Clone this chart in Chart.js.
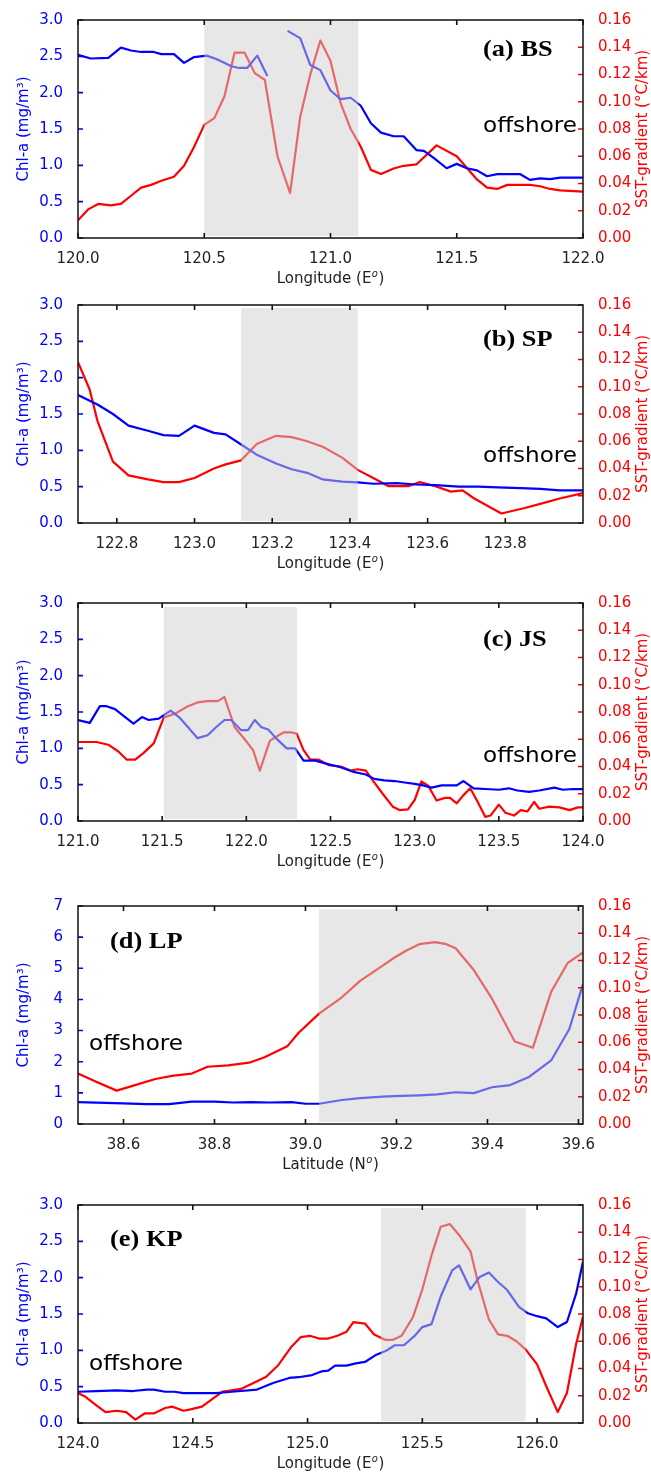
<!DOCTYPE html>
<html>
<head>
<meta charset="utf-8">
<title>Chl-a and SST-gradient sections</title>
<script src="https://cdn.jsdelivr.net/npm/chart.js@4.4.1/dist/chart.umd.min.js"></script>
<style>
  html, body { margin: 0; padding: 0; background: #fff; }
  body { width: 651px; height: 1476px; position: relative; overflow: hidden; }
  canvas { position: absolute; left: 0; }
</style>
</head>
<body>
<canvas id="chartA" width="651" height="290" style="top:0px"></canvas>
<canvas id="chartB" width="651" height="290" style="top:285px"></canvas>
<canvas id="chartC" width="651" height="290" style="top:583px"></canvas>
<canvas id="chartD" width="651" height="290" style="top:886px"></canvas>
<canvas id="chartE" width="651" height="290" style="top:1185px"></canvas>
<script>
// shared tick labels
const chlTicks = [0, 0.5, 1.0, 1.5, 2.0, 2.5, 3.0];
const chlTicksD = [0, 1, 2, 3, 4, 5, 6, 7];
const sstTicks = [0, 0.02, 0.04, 0.06, 0.08, 0.10, 0.12, 0.14, 0.16];

// (a) BS
const xTicksA = [120.0, 120.5, 121.0, 121.5, 122.0];
const shadeA = [120.5, 121.11];
const lonChlA = [120.00,120.05,120.12,120.17,120.21,120.25,120.30,120.33,120.38,120.42,120.46,120.51,120.55,120.61,120.64,120.67,120.71,120.75,120.79,120.83,120.88,120.92,120.96,121.00,121.04,121.08,121.12,121.16,121.20,121.25,121.29,121.34,121.37,121.41,121.46,121.50,121.54,121.58,121.62,121.66,121.75,121.79,121.83,121.87,121.91,122.00];
const chlA = [2.52,2.47,2.48,2.62,2.58,2.56,2.56,2.53,2.53,2.41,2.49,2.51,2.46,2.36,2.34,2.34,2.51,2.23,null,2.85,2.75,2.38,2.31,2.03,1.91,1.93,1.82,1.58,1.45,1.40,1.40,1.21,1.20,1.10,0.96,1.02,0.96,0.93,0.85,0.88,0.88,0.80,0.82,0.81,0.83,0.83];
const lonSstA = [120.00,120.04,120.08,120.13,120.17,120.21,120.25,120.29,120.33,120.38,120.42,120.46,120.50,120.54,120.58,120.62,120.66,120.70,120.74,120.79,120.84,120.88,120.92,120.96,121.00,121.04,121.08,121.12,121.16,121.20,121.25,121.29,121.34,121.42,121.50,121.58,121.62,121.66,121.70,121.79,121.83,121.87,121.91,122.00];
const sstA = [0.013,0.021,0.025,0.024,0.025,0.031,0.037,0.039,0.042,0.045,0.053,0.067,0.083,0.088,0.104,0.136,0.136,0.121,0.116,0.060,0.033,0.089,0.120,0.145,0.130,0.099,0.080,0.067,0.050,0.047,0.051,0.053,0.054,0.068,0.060,0.043,0.037,0.036,0.039,0.039,0.038,0.036,0.035,0.034];

// (b) SP
const xTicksB = [122.8, 123.0, 123.2, 123.4, 123.6, 123.8];
const shadeB = [123.12, 123.42];
const lonChlB = [122.70,122.75,122.79,122.83,122.88,122.92,122.96,123.00,123.05,123.08,123.12,123.16,123.21,123.25,123.29,123.33,123.38,123.42,123.46,123.52,123.57,123.62,123.68,123.73,123.78,123.84,123.89,123.94,124.00];
const chlB = [1.76,1.63,1.50,1.34,1.27,1.21,1.20,1.34,1.24,1.22,1.08,0.94,0.82,0.74,0.69,0.60,0.57,0.56,0.54,0.55,0.53,0.52,0.50,0.50,0.49,0.48,0.47,0.45,0.45];
const lonSstB = [122.70,122.73,122.75,122.79,122.83,122.88,122.92,122.96,123.00,123.05,123.08,123.12,123.16,123.21,123.25,123.29,123.33,123.38,123.42,123.46,123.50,123.55,123.58,123.62,123.66,123.69,123.72,123.79,123.85,123.89,123.94,124.00];
const sstB = [0.118,0.098,0.075,0.045,0.035,0.032,0.030,0.030,0.033,0.040,0.043,0.046,0.058,0.064,0.063,0.060,0.056,0.048,0.039,0.033,0.027,0.027,0.030,0.027,0.023,0.024,0.018,0.007,0.011,0.014,0.018,0.022];

// (c) JS
const xTicksC = [121.0, 121.5, 122.0, 122.5, 123.0, 123.5, 124.0];
const shadeC = [121.51, 122.30];
const lonChlC = [121.00,121.07,121.13,121.17,121.22,121.28,121.33,121.38,121.42,121.48,121.55,121.60,121.65,121.71,121.77,121.82,121.87,121.91,121.97,122.01,122.05,122.09,122.13,122.18,122.24,122.29,122.34,122.41,122.49,122.56,122.63,122.71,122.76,122.82,122.88,122.94,123.00,123.05,123.10,123.16,123.25,123.29,123.35,123.42,123.50,123.56,123.61,123.68,123.74,123.83,123.88,123.94,124.00];
const chlC = [1.39,1.35,1.58,1.58,1.54,1.43,1.34,1.43,1.39,1.41,1.52,1.43,1.30,1.14,1.18,1.29,1.39,1.39,1.25,1.25,1.39,1.29,1.26,1.13,1.00,1.00,0.83,0.83,0.78,0.74,0.68,0.64,0.58,0.56,0.55,0.53,0.51,0.49,0.46,0.49,0.49,0.55,0.45,0.44,0.43,0.45,0.42,0.40,0.42,0.46,0.43,0.44,0.44];
const lonSstC = [121.00,121.11,121.18,121.24,121.29,121.34,121.39,121.45,121.51,121.58,121.65,121.71,121.77,121.83,121.87,121.93,121.99,122.04,122.08,122.14,122.22,122.27,122.30,122.34,122.38,122.43,122.49,122.56,122.62,122.66,122.71,122.75,122.81,122.87,122.91,122.96,123.00,123.04,123.08,123.13,123.18,123.21,123.25,123.29,123.33,123.37,123.42,123.45,123.50,123.54,123.59,123.63,123.67,123.71,123.74,123.80,123.86,123.92,123.97,124.00];
const sstC = [0.058,0.058,0.056,0.051,0.045,0.045,0.050,0.057,0.076,0.079,0.084,0.087,0.088,0.088,0.091,0.069,0.060,0.052,0.037,0.059,0.065,0.065,0.064,0.052,0.045,0.045,0.041,0.040,0.037,0.038,0.037,0.030,0.020,0.0105,0.008,0.0086,0.0154,0.029,0.026,0.015,0.017,0.017,0.013,0.019,0.024,0.015,0.003,0.004,0.012,0.006,0.004,0.008,0.007,0.014,0.009,0.0105,0.010,0.008,0.010,0.010];

// (d) LP
const xTicksD = [38.6, 38.8, 39.0, 39.2, 39.4, 39.6];
const shadeD = [39.03, 39.61];
const latChlD = [38.50,38.56,38.60,38.65,38.70,38.75,38.80,38.84,38.88,38.92,38.97,39.00,39.03,39.08,39.12,39.17,39.21,39.25,39.29,39.33,39.37,39.41,39.45,39.49,39.54,39.58,39.61];
const chlD = [0.70,0.68,0.66,0.64,0.64,0.72,0.72,0.69,0.70,0.69,0.70,0.65,0.65,0.77,0.83,0.88,0.90,0.92,0.95,1.02,0.99,1.18,1.25,1.50,2.04,3.05,4.50];
const latSstD = [38.50,38.54,38.585,38.62,38.67,38.71,38.75,38.785,38.83,38.876,38.91,38.96,38.985,39.03,39.08,39.12,39.16,39.195,39.22,39.25,39.285,39.31,39.33,39.37,39.41,39.46,39.50,39.54,39.576,39.61];
const sstD = [0.037,0.031,0.0245,0.028,0.033,0.0355,0.037,0.042,0.043,0.045,0.049,0.057,0.067,0.081,0.093,0.105,0.114,0.122,0.127,0.132,0.1335,0.132,0.129,0.113,0.092,0.0605,0.056,0.097,0.118,0.126];

// (e) KP
const xTicksE = [124.0, 124.5, 125.0, 125.5, 126.0];
const shadeE = [125.32, 125.95];
const lonChlE = [124.00,124.08,124.17,124.24,124.30,124.33,124.38,124.42,124.46,124.53,124.60,124.67,124.78,124.85,124.92,124.96,125.02,125.06,125.09,125.12,125.17,125.21,125.25,125.30,125.34,125.38,125.42,125.47,125.50,125.54,125.58,125.63,125.66,125.71,125.75,125.79,125.83,125.87,125.92,125.96,126.00,126.04,126.09,126.13,126.17,126.20];
const chlE = [0.43,0.44,0.45,0.44,0.46,0.46,0.43,0.43,0.41,0.41,0.41,0.43,0.46,0.55,0.62,0.63,0.66,0.71,0.72,0.79,0.79,0.82,0.84,0.94,0.99,1.07,1.07,1.21,1.32,1.36,1.74,2.10,2.17,1.84,2.01,2.07,1.94,1.83,1.60,1.51,1.47,1.44,1.32,1.39,1.78,2.22];
const lonSstE = [124.00,124.03,124.08,124.12,124.17,124.21,124.25,124.29,124.33,124.38,124.41,124.46,124.49,124.54,124.58,124.63,124.67,124.71,124.76,124.82,124.87,124.93,124.97,125.01,125.05,125.09,125.13,125.17,125.20,125.25,125.29,125.34,125.37,125.41,125.46,125.50,125.54,125.58,125.62,125.66,125.71,125.74,125.79,125.83,125.87,125.91,125.95,126.00,126.04,126.09,126.13,126.17,126.20];
const sstE = [0.022,0.0195,0.013,0.008,0.009,0.008,0.0025,0.007,0.007,0.011,0.012,0.009,0.010,0.012,0.017,0.023,0.024,0.025,0.029,0.034,0.042,0.056,0.063,0.064,0.062,0.062,0.064,0.067,0.074,0.073,0.065,0.061,0.061,0.064,0.078,0.098,0.123,0.144,0.146,0.138,0.126,0.105,0.076,0.065,0.064,0.060,0.054,0.043,0.027,0.008,0.022,0.058,0.078];

Chart.defaults.font.family = '"DejaVu Sans", sans-serif';
Chart.defaults.animation = false;

const BLUE = '#0000ff', RED = '#ff0000';

function pts(xs, ys) { return xs.map((x, i) => ({ x: x, y: ys[i] })); }

// shade box, frame with inward ticks, axis titles and the in-plot texts
const decor = {
  id: 'decor',
  afterDatasetsDraw(chart, args, o) {
    const { ctx, chartArea: a, scales } = chart;
    const sx = scales.x, yl = scales.y, yr = scales.y1;
    ctx.save();
    const x0 = sx.getPixelForValue(o.shade[0]);
    const x1 = Math.min(sx.getPixelForValue(o.shade[1]), a.right);
    ctx.fillStyle = 'rgba(208,208,208,0.5)';
    ctx.fillRect(x0, a.top + o.shadeInset, x1 - x0, a.bottom - 2 - a.top - o.shadeInset);

    ctx.lineWidth = 1.6;
    ctx.strokeStyle = '#111';
    ctx.beginPath();
    sx.ticks.forEach(t => {
      const px = sx.getPixelForValue(t.value);
      ctx.moveTo(px, a.bottom); ctx.lineTo(px, a.bottom - 5);
      ctx.moveTo(px, a.top); ctx.lineTo(px, a.top + 5);
    });
    ctx.stroke();
    ctx.strokeStyle = BLUE;
    ctx.beginPath();
    yl.ticks.forEach(t => {
      const py = yl.getPixelForValue(t.value);
      ctx.moveTo(a.left, py); ctx.lineTo(a.left + 5, py);
    });
    ctx.stroke();
    ctx.strokeStyle = RED;
    ctx.beginPath();
    yr.ticks.forEach(t => {
      const py = yr.getPixelForValue(t.value);
      ctx.moveTo(a.right, py); ctx.lineTo(a.right - 5, py);
    });
    ctx.stroke();
    ctx.strokeStyle = '#111';
    ctx.lineWidth = 1.5;
    ctx.strokeRect(a.left, a.top, a.right - a.left, a.bottom - a.top);

    const midY = (a.top + a.bottom) / 2;
    ctx.textBaseline = 'middle';
    ctx.textAlign = 'center';
    ctx.font = '15px "DejaVu Sans"';
    ctx.fillStyle = BLUE;
    ctx.save(); ctx.translate(24, midY); ctx.rotate(-Math.PI / 2);
    ctx.fillText('Chl-a (mg/m\u00B3)', 0, 0); ctx.restore();
    ctx.fillStyle = RED;
    ctx.save(); ctx.translate(643, midY); ctx.rotate(-Math.PI / 2);
    ctx.fillText('SST-gradient (\u00B0C/km)', 0, 0); ctx.restore();

    // x title with an italic superscript o
    ctx.fillStyle = '#222';
    ctx.textAlign = 'left';
    const t1 = o.xTitle + ' (' + o.xUnit, t3 = ')';
    ctx.font = '15px "DejaVu Sans"';
    const w1 = ctx.measureText(t1).width, w3 = ctx.measureText(t3).width;
    ctx.font = 'italic 10px "DejaVu Sans"';
    const w2 = ctx.measureText('o').width + 1;
    const tx = (a.left + a.right) / 2 - (w1 + w2 + w3) / 2, ty = a.bottom + 41;
    ctx.font = '15px "DejaVu Sans"';
    ctx.fillText(t1, tx, ty);
    ctx.fillText(t3, tx + w1 + w2, ty);
    ctx.font = 'italic 10px "DejaVu Sans"';
    ctx.fillText('o', tx + w1 + 0.5, ty - 5);

    ctx.fillStyle = '#000';
    ctx.save(); ctx.translate(o.labelPos[0], a.top + o.labelPos[1]); ctx.scale(1.1, 1);
    ctx.font = 'bold 24px "Liberation Serif"';
    ctx.fillText(o.label, 0, 0); ctx.restore();
    ctx.save(); ctx.translate(o.offPos[0], a.top + o.offPos[1]); ctx.scale(1.1, 1);
    ctx.font = '21px "DejaVu Sans"';
    ctx.fillText('offshore', 0, 0); ctx.restore();
    ctx.restore();
  }
};

function makePanel(id, p) {
  new Chart(document.getElementById(id), {
    type: 'line',
    data: {
      datasets: [
        { data: pts(p.xChl, p.chl), yAxisID: 'y', borderColor: BLUE, borderWidth: 2.2,
          pointRadius: 0, tension: 0, spanGaps: false, borderJoinStyle: 'round' },
        { data: pts(p.xSst, p.sst), yAxisID: 'y1', borderColor: RED, borderWidth: 2.2,
          pointRadius: 0, tension: 0, borderJoinStyle: 'round' }
      ]
    },
    options: {
      responsive: false,
      animation: false,
      layout: { padding: { top: 20, left: 0, right: 0, bottom: 0 } },
      plugins: { legend: { display: false }, tooltip: { enabled: false },
        decor: { shade: p.shade, shadeInset: p.shadeInset, label: p.label, labelPos: p.labelPos,
                 offPos: p.offPos, xTitle: p.xTitle, xUnit: p.xUnit } },
      scales: {
        x: {
          type: 'linear', min: p.xRange[0], max: p.xRange[1],
          grid: { display: false }, border: { display: false },
          ticks: { color: '#222', font: { size: 15 }, padding: 4, maxRotation: 0, autoSkip: false,
                   callback: v => v.toFixed(1) },
          afterBuildTicks: s => { s.ticks = p.xTicks.map(v => ({ value: v })); },
          afterFit: s => { s.height = 52; }
        },
        y: {
          position: 'left', min: 0, max: p.chlTicks[p.chlTicks.length - 1],
          grid: { display: false }, border: { display: false },
          ticks: { color: BLUE, font: { size: 15 }, padding: 7,
                   callback: v => p.chlDigits ? v.toFixed(p.chlDigits) : String(v) },
          afterBuildTicks: s => { s.ticks = p.chlTicks.map(v => ({ value: v })); },
          afterFit: s => { s.width = 78; }
        },
        y1: {
          position: 'right', min: 0, max: 0.16,
          grid: { display: false }, border: { display: false },
          ticks: { color: RED, font: { size: 15 }, padding: 7, callback: v => v.toFixed(2) },
          afterBuildTicks: s => { s.ticks = sstTicks.map(v => ({ value: v })); },
          afterFit: s => { s.width = 68; }
        }
      }
    },
    plugins: [decor]
  });
}

makePanel('chartA', { xRange: [120, 122], xTicks: xTicksA, shade: shadeA, shadeInset: 1,
  xChl: lonChlA, chl: chlA, xSst: lonSstA, sst: sstA, chlTicks: chlTicks, chlDigits: 1,
  label: '(a) BS', labelPos: [483, 30], offPos: [483, 107], xTitle: 'Longitude', xUnit: 'E' });
makePanel('chartB', { xRange: [122.7, 124.0], xTicks: xTicksB, shade: shadeB, shadeInset: 3,
  xChl: lonChlB, chl: chlB, xSst: lonSstB, sst: sstB, chlTicks: chlTicks, chlDigits: 1,
  label: '(b) SP', labelPos: [483, 35], offPos: [483, 152], xTitle: 'Longitude', xUnit: 'E' });
makePanel('chartC', { xRange: [121, 124], xTicks: xTicksC, shade: shadeC, shadeInset: 4,
  xChl: lonChlC, chl: chlC, xSst: lonSstC, sst: sstC, chlTicks: chlTicks, chlDigits: 1,
  label: '(c) JS', labelPos: [483, 37], offPos: [483, 154], xTitle: 'Longitude', xUnit: 'E' });
makePanel('chartD', { xRange: [38.5, 39.61], xTicks: xTicksD, shade: shadeD, shadeInset: 3,
  xChl: latChlD, chl: chlD, xSst: latSstD, sst: sstD, chlTicks: chlTicksD, chlDigits: 0,
  label: '(d) LP', labelPos: [110, 36], offPos: [89, 139], xTitle: 'Latitude', xUnit: 'N' });
makePanel('chartE', { xRange: [124, 126.2], xTicks: xTicksE, shade: shadeE, shadeInset: 3,
  xChl: lonChlE, chl: chlE, xSst: lonSstE, sst: sstE, chlTicks: chlTicks, chlDigits: 1,
  label: '(e) KP', labelPos: [110, 35], offPos: [89, 160], xTitle: 'Longitude', xUnit: 'E' });
</script>
</body>
</html>
